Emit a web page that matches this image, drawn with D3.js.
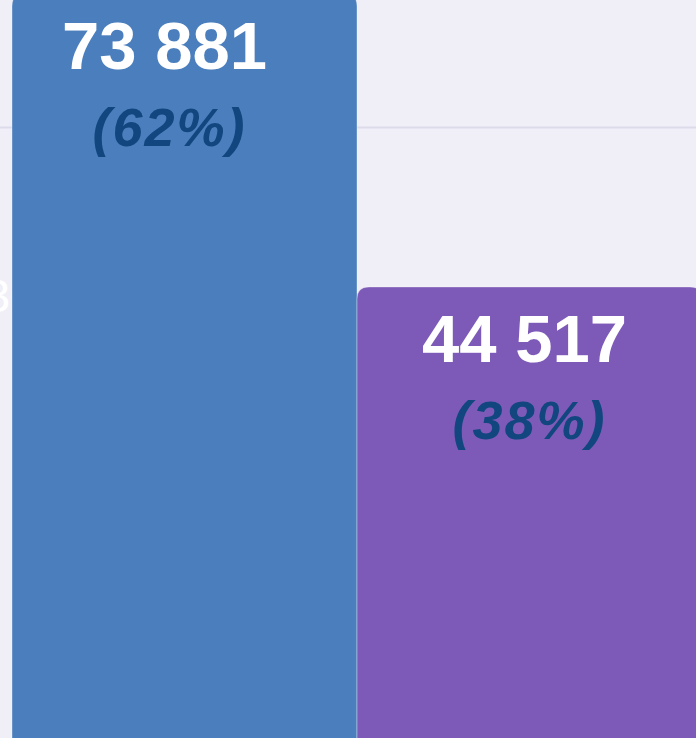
<!DOCTYPE html>
<html>
<head>
<meta charset="utf-8">
<script src="https://cdn.jsdelivr.net/npm/d3@7"></script>
<style>
  html, body { margin: 0; padding: 0; background: #f0eff8; overflow: hidden; }
  svg { display: block; font-family: "Liberation Sans", Arial, sans-serif; }
</style>
</head>
<body>
<div id="chart"></div>
<script>
// data
var categories = ['A', 'B'];
var values = [73881, 44517];
var shares = [62, 38];
var gridValues = [60500];
var axisLabels = ['30 000'];
var axisValues = [43700];

var width = 696;
var height = 738;

var colors = ['#4a7ebd', '#7e5ab8'];
var labelDx = [-20, -5];

var svg = d3.select('#chart')
  .append('svg')
  .attr('width', width)
  .attr('height', height)

svg.append('rect')
  .attr('width', width)
  .attr('height', height)
  .attr('fill', '#f0eff8')

// scales (chart is cropped: baseline sits just under the view)
var x = d3.scaleBand()
  .domain(categories)
  .range([12, 702])
  .padding(0)

var y = d3.scaleLinear()
  .domain([0, 80000])
  .range([731, -67])

var fmt = d3.formatLocale({ decimal: ',', thousands: ' ', grouping: [3], currency: ['', ''] }).format(',d')

// axis label hidden behind bars
svg.selectAll('text.axis')
  .data(axisValues)
  .enter()
  .append('text')
  .attr('class', 'axis')
  .attr('x', -16)
  .attr('y', d => y(d))
  .attr('dy', '0.35em')
  .attr('fill', '#ffffff')
  .attr('font-size', 47)
  .text((d, i) => axisLabels[i])

// gridlines
svg.selectAll('line.grid')
  .data(gridValues)
  .enter()
  .append('line')
  .attr('class', 'grid')
  .attr('x1', 0)
  .attr('x2', width)
  .attr('y1', d => y(d))
  .attr('y2', d => y(d))
  .attr('stroke', '#dcdbe9')
  .attr('stroke-width', 2)

// bars with rounded top corners
function barPath(x0, x1, top, bottom, r) {
  return 'M' + x0 + ',' + bottom +
    'V' + (top + r) +
    'Q' + x0 + ',' + top + ' ' + (x0 + r) + ',' + top +
    'H' + (x1 - r) +
    'Q' + x1 + ',' + top + ' ' + x1 + ',' + (top + r) +
    'V' + bottom + 'Z'
}

var bars = svg.selectAll('g.bar')
  .data(values)
  .enter()
  .append('g')
  .attr('class', 'bar')

bars.append('path')
  .attr('d', (d, i) => {
    var x0 = x(categories[i]);
    return barPath(x0, x0 + x.bandwidth(), y(d), height + 20, 12)
  })
  .attr('fill', (d, i) => colors[i])
  .attr('stroke', 'rgba(255,255,255,0.35)')
  .attr('stroke-width', 1)

bars.append('text')
  .attr('x', (d, i) => x(categories[i]) + x.bandwidth() / 2 + labelDx[i])
  .attr('y', d => y(d) + 75)
  .attr('text-anchor', 'middle')
  .attr('fill', '#ffffff')
  .attr('font-weight', 'bold')
  .attr('font-size', 67)
  .text(d => fmt(d))

bars.append('text')
  .attr('x', (d, i) => x(categories[i]) + x.bandwidth() / 2 + labelDx[i] + 5)
  .attr('y', d => y(d) + 152)
  .attr('text-anchor', 'middle')
  .attr('fill', '#12467f')
  .attr('font-weight', 'bold')
  .attr('font-style', 'italic')
  .attr('font-size', 54)
  .attr('letter-spacing', 2)
  .text((d, i) => '(' + shares[i] + '%)')
</script>
</body>
</html>
